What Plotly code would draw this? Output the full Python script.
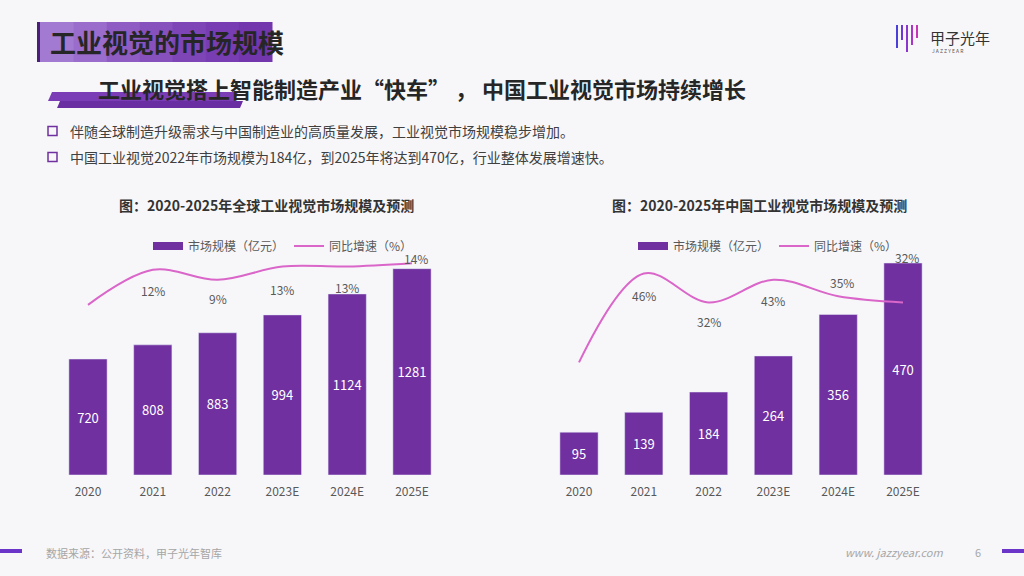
import plotly.graph_objects as go

# 数据
years = ['2020', '2021', '2022', '2023E', '2024E', '2025E']
global_size = [720, 808, 883, 994, 1124, 1281]
global_growth = [1.5, 12, 9, 13, 13, 14]
global_growth_text = ['', '12%', '9%', '13%', '13%', '14%']
china_size = [95, 139, 184, 264, 356, 470]
china_growth = [3, 46, 32, 43, 35, 32]
china_growth_text = ['', '46%', '32%', '43%', '35%', '32%']

# 标签偏移(像素, 负数向下)
global_shift = [0, -21, -19, -23, -21, 5]
global_xshift = [0, 0, 0, 0, 0, 4]
china_shift = [0, -22, -19, -21, 14, 45]
china_xshift = [0, 0, 0, 0, 4, 4]

FONT = 'Noto Sans CJK SC'
PURPLE = '#7030A0'
PINK = '#D966C8'
GRAY = '#595959'

fig = go.Figure()

# 全球
fig.add_trace(go.Bar(x=years, y=global_size, marker_color=PURPLE, text=global_size,
                     textposition='inside', insidetextanchor='middle',
                     textfont=dict(color='white', size=13, family=FONT),
                     showlegend=False, xaxis='x', yaxis='y'))
fig.add_trace(go.Scatter(x=years, y=global_growth, mode='lines', line=dict(color=PINK, width=2, shape='spline', smoothing=1),
                         name='同比增速（%）', legend='legend', xaxis='x', yaxis='y2'))
fig.add_trace(go.Scatter(x=[years[0]], y=[None], mode='lines', line=dict(color=PURPLE, width=8),
                         name='市场规模（亿元）', legend='legend', xaxis='x', yaxis='y', legendrank=1))

# 中国
fig.add_trace(go.Bar(x=years, y=china_size, marker_color=PURPLE, text=china_size,
                     textposition='inside', insidetextanchor='middle',
                     textfont=dict(color='white', size=13, family=FONT),
                     showlegend=False, xaxis='x2', yaxis='y3'))
fig.add_trace(go.Scatter(x=years, y=china_growth, mode='lines', line=dict(color=PINK, width=2, shape='spline', smoothing=1),
                         name='同比增速（%）', legend='legend2', xaxis='x2', yaxis='y4'))
fig.add_trace(go.Scatter(x=[years[0]], y=[None], mode='lines', line=dict(color=PURPLE, width=8),
                         name='市场规模（亿元）', legend='legend2', xaxis='x2', yaxis='y3', legendrank=1))

# 增速标签 (类别轴上用序号定位, 避免"2021"被当成数字)
annotations = []
for i in range(len(years)):
    if global_growth_text[i]:
        annotations.append(dict(x=i, y=global_growth[i], xref='x', yref='y2', text=global_growth_text[i],
                                showarrow=False, yshift=global_shift[i], xshift=global_xshift[i],
                                font=dict(size=12, color=GRAY, family=FONT)))
    if china_growth_text[i]:
        annotations.append(dict(x=i, y=china_growth[i], xref='x2', yref='y4', text=china_growth_text[i],
                                showarrow=False, yshift=china_shift[i], xshift=china_xshift[i],
                                font=dict(size=12, color=GRAY, family=FONT)))

def txt(x, y, s, size, color='#262626', xanchor='left', bold=False, italic=False):
    if bold:
        s = '<b>' + s + '</b>'
    if italic:
        s = '<i>' + s + '</i>'
    annotations.append(dict(x=x / 1024, y=1 - y / 576, xref='paper', yref='paper', text=s, showarrow=False,
                            xanchor=xanchor, yanchor='middle', font=dict(size=size, color=color, family=FONT)))

txt(48, 41, '工业视觉的市场规模', 26, '#262626', bold=True)
txt(96, 88, '工业视觉搭上智能制造产业“快车” ， 中国工业视觉市场持续增长', 22, '#262626', bold=True)
txt(68, 131, '伴随全球制造升级需求与中国制造业的高质量发展，工业视觉市场规模稳步增加。', 14, '#404040')
txt(68, 157, '中国工业视觉2022年市场规模为184亿，到2025年将达到470亿，行业整体发展增速快。', 14, '#404040')
txt(266, 205, '图：2020-2025年全球工业视觉市场规模及预测', 14, '#333333', xanchor='center', bold=True)
txt(759, 205, '图：2020-2025年中国工业视觉市场规模及预测', 14, '#333333', xanchor='center', bold=True)
txt(44, 553, '数据来源：公开资料，甲子光年智库', 11, '#a6a6a6')
txt(945, 552, 'www. jazzyear.com', 11, '#a6a6a6', xanchor='right', italic=True)
txt(978, 552, '6', 11, '#a6a6a6', xanchor='center')
txt(928, 37, '甲子光年', 15, '#333333')
txt(930, 50, 'J A Z Z Y E A R', 5, '#555555')

shapes = []
def rect(x0, y0, x1, y1, color):
    shapes.append(dict(type='rect', xref='paper', yref='paper', x0=x0 / 1024, x1=x1 / 1024,
                       y0=1 - y0 / 576, y1=1 - y1 / 576, fillcolor=color, line=dict(width=0), layer='below'))

def path(pts, color):
    d = 'M ' + ' L '.join('%.4f,%.4f' % (x / 1024, 1 - y / 576) for x, y in pts) + ' Z'
    shapes.append(dict(type='path', xref='paper', yref='paper', path=d, fillcolor=color, line=dict(width=0), layer='below'))

# 标题底色 (近似渐变)
grad = ['#a27ad2', '#9a6ccc', '#8f5cc4', '#8650bd', '#7e45b7', '#783db2', '#7336ad']
step = (272 - 40) / len(grad)
for k, c in enumerate(grad):
    rect(40 + k * step, 22, 40 + (k + 1) * step + 0.5, 62, c)
rect(37, 22, 40, 62, '#4a1f78')
# 副标题下划条
path([(52, 92), (238, 92), (235, 101), (48, 101)], '#7b3db5')
path([(60, 101), (243, 101), (240, 108), (57, 108)], '#6a2ea3')
# 小方框
for yy in (131, 157):
    shapes.append(dict(type='rect', xref='paper', yref='paper', x0=48 / 1024, x1=57 / 1024,
                       y0=1 - (yy - 4.5) / 576, y1=1 - (yy + 4.5) / 576, line=dict(color='#7030A0', width=1.5)))
# 页脚条
rect(0, 549, 22, 553, '#6a35c8')
rect(1002, 549, 1024, 553, '#6a35c8')
# logo
logo_x = [897, 902, 907, 912, 917]
logo_len = [48, 40, 52, 45, 38]
logo_col = ['#4a3fd8', '#6a3ad6', '#8a36cf', '#a834c8', '#c933b8']
for lx, l, c in zip(logo_x, logo_len, logo_col):
    shapes.append(dict(type='line', xref='paper', yref='paper', x0=lx / 1024, x1=lx / 1024,
                       y0=1 - 25 / 576, y1=1 - l / 576, line=dict(color=c, width=2)))

xdom1 = [55.6 / 1024, 444.4 / 1024]
xdom2 = [546.6 / 1024, 935.4 / 1024]
ydom = [(576 - 475) / 576, (576 - 249.5) / 576]

axis_x = dict(type='category', categoryorder='array', categoryarray=years, range=[-0.5, 5.5],
              showgrid=False, showline=False, zeroline=False, ticks='', ticklabelstandoff=8,
              tickfont=dict(size=12, color=GRAY, family=FONT))
axis_y = dict(visible=False, showgrid=False, zeroline=False)

fig.update_layout(
    width=1024, height=576,
    margin=dict(l=0, r=0, t=0, b=0),
    paper_bgcolor='#f7f7fa', plot_bgcolor='rgba(0,0,0,0)',
    font=dict(family=FONT),
    bargap=0.41,
    xaxis=dict(domain=xdom1, anchor='y', **axis_x),
    yaxis=dict(domain=ydom, range=[0, 1400], anchor='x', **axis_y),
    yaxis2=dict(overlaying='y', range=[-49.5, 18.1], **axis_y),
    xaxis2=dict(domain=xdom2, anchor='y3', **axis_x),
    yaxis3=dict(domain=ydom, range=[0, 500], anchor='x2', **axis_y),
    yaxis4=dict(overlaying='y3', range=[-51.5, 57.6], **axis_y),
    legend=dict(orientation='h', x=283 / 1024, y=1 - 246 / 576, xanchor='center', yanchor='middle',
                font=dict(size=12, color=GRAY, family=FONT), itemwidth=30, bgcolor='rgba(0,0,0,0)',
                traceorder='normal'),
    legend2=dict(orientation='h', x=768 / 1024, y=1 - 246 / 576, xanchor='center', yanchor='middle',
                 font=dict(size=12, color=GRAY, family=FONT), itemwidth=30, bgcolor='rgba(0,0,0,0)',
                 traceorder='normal'),
    annotations=annotations,
    shapes=shapes,
)

fig.write_html('out.html', config={'displayModeBar': False},
               post_script="document.body.style.margin='0';")
